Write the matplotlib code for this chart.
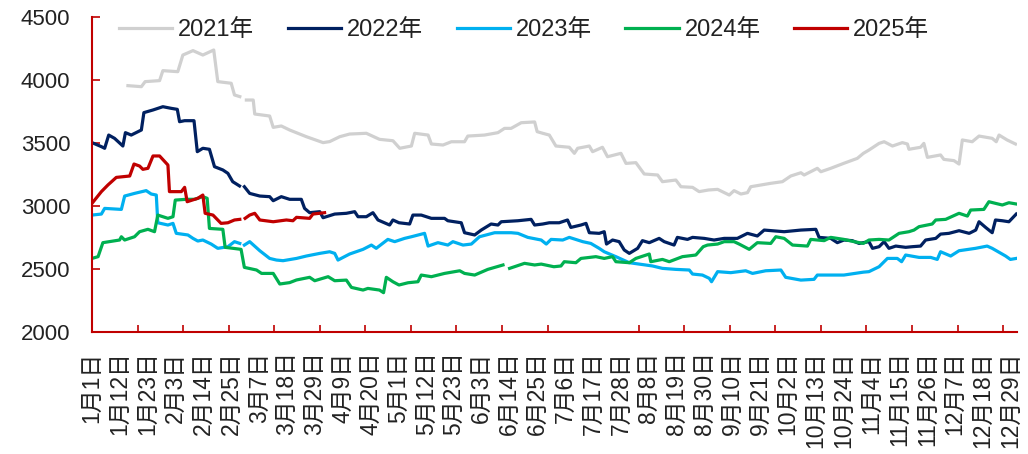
import numpy as np
import matplotlib
matplotlib.use("Agg")
from matplotlib import pyplot as plt

plt.rcParams["font.family"] = ["Liberation Sans", "Noto Sans CJK SC", "DejaVu Sans"]

nan = np.nan

# x = day of year (leap-year calendar, 0 = 1月1日), y = price
s2021 = [(14.2, 3955), (19.5, 3947), (21, 3987), (26.7, 3995), (28, 4074), (33.9, 4066),
         (35.9, 4198), (39.9, 4233), (43.8, 4198), (48.1, 4238), (49.7, 3987), (55, 3974),
         (56.3, 3881), (58.4, 3868), (59, nan), (61, 3841), (63.7, 3841), (64.3, 3730),
         (70.2, 3714), (71.6, 3624), (74.8, 3635), (78.1, 3603), (84.7, 3550), (91.3, 3503),
         (93.9, 3511), (97.9, 3550), (101.8, 3571), (108.4, 3577), (113.6, 3529), (118.9, 3518),
         (121.6, 3458), (126.2, 3476), (127.5, 3577), (132.8, 3563), (134.1, 3492), (138.7, 3484),
         (142, 3510), (147.2, 3510), (148.5, 3555), (155.1, 3563), (160.4, 3582), (163, 3616),
         (165.6, 3616), (169.6, 3661), (174.9, 3667), (175.9, 3590), (178.1, 3577), (180.7, 3563),
         (183.3, 3476), (188.6, 3466), (190.6, 3418), (191.9, 3458), (196.5, 3476), (197.8, 3431),
         (201.7, 3466), (203.7, 3391), (209, 3418), (211, 3338), (214.9, 3344), (218.2, 3254),
         (223.5, 3246), (225.4, 3193), (230.7, 3206), (232.7, 3153), (237.3, 3148), (239.9, 3114),
         (243.6, 3127), (247.2, 3132), (251.8, 3087), (253.7, 3122), (256.4, 3095), (259, 3106),
         (260.3, 3153), (268.2, 3180), (272.8, 3193), (276.1, 3238), (280.1, 3264), (281.4, 3246),
         (286.6, 3299), (288, 3272), (291.9, 3299), (297.1, 3339), (302.4, 3378), (304.8, 3418),
         (307, 3444), (311, 3497), (313, 3510), (316.3, 3476), (320.2, 3503), (322.2, 3492),
         (322.8, 3450), (327.4, 3466), (328.7, 3497), (330.1, 3386), (335.3, 3405), (336.6, 3370),
         (340.6, 3360), (342.6, 3333), (343.9, 3524), (347.8, 3510), (350.5, 3555), (355.7, 3537),
         (357.3, 3510), (358.4, 3563), (361.6, 3524), (364.9, 3492)]

s2022 = [(0, 3503), (3.7, 3471), (5, 3458), (6.6, 3563), (8.9, 3537), (12.2, 3476), (13.2, 3582),
         (15.5, 3563), (19.5, 3603), (20.5, 3741), (24.1, 3762), (28, 3788), (31.3, 3775),
         (33.7, 3767), (34.6, 3669), (36.6, 3677), (40.3, 3677), (41.6, 3431), (43.8, 3458),
         (46.4, 3450), (48.4, 3312), (51.7, 3286), (53.7, 3259), (55.6, 3193), (58.3, 3159),
         (59, nan), (60.2, 3153), (62.3, 3100), (66.3, 3079), (70.2, 3074), (71.6, 3042),
         (74.8, 3074), (78.1, 3053), (82.7, 3053), (84, 2981), (86, 2947), (90, 2955), (91.3, 2907),
         (95.9, 2936), (100.5, 2942), (103.8, 2955), (105.1, 2915), (108.4, 2915), (111, 2947),
         (113, 2889), (117.6, 2849), (118.9, 2889), (121.3, 2867), (125.5, 2857), (126.8, 2928),
         (130.1, 2928), (134.1, 2902), (139.3, 2902), (140.6, 2883), (145.9, 2867), (147.2, 2788),
         (151.2, 2770), (153.8, 2809), (157.7, 2857), (160.4, 2849), (161.7, 2875), (168.3, 2883),
         (173.5, 2894), (174.9, 2849), (178.1, 2857), (180.7, 2867), (184.6, 2867), (187.9, 2889),
         (189.2, 2830), (193.2, 2849), (195.2, 2862), (196.5, 2788), (200.4, 2783), (202.4, 2796),
         (203.3, 2698), (205.7, 2730), (208.3, 2717), (210.3, 2651), (212.3, 2624), (215.6, 2664),
         (217.5, 2725), (220.2, 2709), (224.1, 2743), (226.1, 2717), (230, 2690), (231.3, 2751),
         (235.3, 2735), (237.3, 2751), (241.9, 2743), (245.8, 2730), (249.8, 2743), (255, 2743),
         (259, 2783), (262.9, 2762), (265.6, 2809), (273.5, 2796), (280.1, 2809), (286, 2815),
         (287.3, 2751), (291.9, 2743), (294.5, 2709), (297.1, 2730), (300.4, 2725), (303.1, 2703),
         (307, 2717), (308.4, 2664), (311, 2677), (313, 2717), (314.9, 2664), (317.6, 2682),
         (321.5, 2672), (324.1, 2677), (327.4, 2682), (329.4, 2730), (333.4, 2743), (335.3, 2777),
         (338.6, 2783), (342.6, 2804), (346.6, 2783), (349.2, 2809), (350.5, 2875), (353.1, 2830),
         (355.7, 2788), (357, 2889), (359.7, 2883), (362.3, 2875), (365.2, 2936)]

s2023 = [(0, 2928), (3.7, 2936), (5, 2981), (11.6, 2973), (12.9, 3079), (16.8, 3100), (21.4, 3122),
         (23.4, 3095), (25.4, 3087), (26, 2867), (30, 2849), (32, 2862), (33.3, 2783), (37.9, 2770),
         (39.9, 2743), (41.8, 2722), (43.8, 2730), (47.1, 2698), (49.7, 2664), (53.7, 2677),
         (56.3, 2717), (58.4, 2703), (59, nan), (60.2, 2690), (62.3, 2717), (66.3, 2645),
         (70.2, 2584), (72.9, 2571), (75.5, 2566), (80.8, 2584), (84.7, 2603), (90, 2624),
         (93.9, 2637), (95.9, 2624), (97.2, 2571), (101.8, 2619), (107.1, 2656), (110.4, 2690),
         (112.3, 2664), (116.9, 2735), (119.6, 2717), (123.5, 2743), (126.2, 2756), (131.4, 2783),
         (132.8, 2682), (136.7, 2709), (140.6, 2690), (142.6, 2717), (146.6, 2690), (149.9, 2698),
         (153.1, 2756), (159.1, 2788), (165.6, 2788), (168.3, 2783), (172.2, 2751), (177.5, 2730),
         (179.5, 2698), (181.4, 2735), (186, 2730), (188.6, 2751), (193.9, 2717), (197.1, 2703),
         (200.4, 2664), (202.4, 2637), (207, 2598), (212.3, 2550), (216.2, 2539), (221.5, 2524),
         (225.4, 2505), (230.7, 2497), (236, 2492), (237.3, 2460), (241.2, 2452), (243.9, 2426),
         (244.8, 2399), (247.2, 2479), (252.4, 2471), (258.3, 2486), (261, 2465), (266.2, 2486),
         (272.2, 2492), (274.1, 2434), (280.1, 2412), (285.3, 2418), (286.6, 2452), (297.1, 2452),
         (304.8, 2475), (307, 2479), (311, 2518), (314.3, 2584), (318.2, 2584), (319.9, 2558),
         (321.5, 2611), (326.8, 2592), (331.4, 2592), (334, 2576), (335.3, 2637), (339.3, 2603),
         (342.6, 2645), (349.1, 2664), (353.7, 2682), (355.7, 2664), (361, 2603), (362.9, 2576),
         (365.2, 2584)]

s2024 = [(0, 2584), (2.4, 2598), (4.3, 2709), (10.9, 2730), (11.6, 2756), (12.9, 2730),
         (16.8, 2756), (18.8, 2796), (22.1, 2815), (24.7, 2796), (26, 2928), (30, 2902),
         (32, 2915), (32.9, 3047), (37.2, 3053), (40.5, 3053), (43.8, 3074), (45.5, 3061),
         (46.4, 2822), (51.7, 2815), (52.6, 2672), (58.9, 2656), (60.2, 2513), (65, 2492),
         (67, 2465), (71.6, 2465), (74.2, 2381), (78.1, 2392), (80.8, 2413), (86, 2434),
         (88, 2407), (93.3, 2439), (95.9, 2407), (100.5, 2412), (102.5, 2354), (107.1, 2333),
         (109, 2346), (113.6, 2333), (115.2, 2312), (116.3, 2434), (118.9, 2399), (121.3, 2373),
         (124.9, 2391), (128.8, 2399), (130.1, 2452), (134.1, 2439), (139.3, 2465), (145.3, 2486),
         (147.2, 2465), (151.2, 2452), (156.4, 2497), (162.4, 2532), (163.5, nan), (165, 2505),
         (170.9, 2545), (174.9, 2532), (177.5, 2539), (182.5, 2518), (185.3, 2524), (186.6, 2558),
         (191.2, 2550), (193.2, 2584), (199.1, 2598), (202.4, 2584), (205.7, 2598), (207, 2558),
         (212.3, 2550), (214.9, 2584), (220.2, 2619), (220.8, 2558), (225.4, 2576), (228.1, 2558),
         (233.3, 2598), (238.6, 2611), (241.5, 2677), (243.2, 2690), (247.2, 2698), (249.8, 2717),
         (253.7, 2717), (255.7, 2698), (259.7, 2656), (262.9, 2709), (268.2, 2703), (270.2, 2756),
         (273.5, 2743), (276.8, 2690), (282.7, 2682), (284, 2735), (289.3, 2725), (291.9, 2751),
         (297.1, 2735), (301.1, 2717), (304.8, 2703), (307, 2730), (311, 2735), (314.9, 2730),
         (318.9, 2783), (322.8, 2796), (324.8, 2809), (326.8, 2836), (332, 2857), (333.4, 2889),
         (337.3, 2894), (342.6, 2942), (345.9, 2920), (347.2, 2968), (352.4, 2973), (354.4, 3034),
         (357, 3021), (359.7, 3008), (362.3, 3026), (365.2, 3016)]

s2025 = [(0, 3021), (3.7, 3114), (6.3, 3167), (9.6, 3227), (14.9, 3238), (16.6, 3333),
         (18.8, 3317), (20.1, 3291), (22.1, 3299), (24.1, 3397), (26.7, 3397), (30, 3325),
         (30.6, 3114), (35.3, 3114), (36.6, 3148), (37.6, 3034), (41.8, 3061), (43.8, 3087),
         (44.7, 2942), (47.8, 2928), (51, 2862), (53.7, 2867), (56.3, 2889), (58.4, 2894),
         (59, nan), (60.5, 2902), (62.3, 2928), (64.3, 2942), (66.3, 2889), (71.6, 2875),
         (76.8, 2889), (79.4, 2883), (80.8, 2910), (86, 2902), (87.3, 2936), (91.9, 2947)]

series = {"2021年": s2021, "2022年": s2022, "2023年": s2023, "2024年": s2024, "2025年": s2025}
colors = ["#D0D0D0", "#002060", "#00B0F0", "#00B050", "#C00000"]

tick_days = list(range(0, 364, 11))
tick_labels = ["1月1日", "1月12日", "1月23日", "2月3日", "2月14日", "2月25日", "3月7日",
               "3月18日", "3月29日", "4月9日", "4月20日", "5月1日", "5月12日", "5月23日",
               "6月3日", "6月14日", "6月25日", "7月6日", "7月17日", "7月28日", "8月8日",
               "8月19日", "8月30日", "9月10日", "9月21日", "10月2日", "10月13日", "10月24日",
               "11月4日", "11月15日", "11月26日", "12月7日", "12月18日", "12月29日"]

fig = plt.figure(figsize=(10.28, 4.54), dpi=100)
ax = fig.add_axes([0.0895, 0.2687, 0.8998, 0.6939])

for (name, pts), c in zip(series.items(), colors):
    x = [p[0] for p in pts]
    y = [p[1] for p in pts]
    ax.plot(x, y, color=c, lw=2.3, label=name, solid_joinstyle="round")

ax.set_xlim(0, 365.5)
ax.set_ylim(2000, 4500)
ax.set_yticks(range(2000, 4501, 500))

ax.set_xticks(tick_days)
ax.set_xticklabels(tick_labels, rotation=90, fontsize=16.5, color="#222222")
ax.set_xticks(range(0, 366, 18), minor=True)
ax.tick_params(axis="x", which="major", length=0, pad=14)
ax.tick_params(axis="x", which="minor", direction="in", length=5, width=1.2, color="#C00000")
ax.tick_params(axis="y", direction="in", length=6, width=1.2, color="#C00000",
               labelsize=16, labelcolor="#222222", pad=15.5)

for side in ["top", "right"]:
    ax.spines[side].set_visible(False)
for side in ["left", "bottom"]:
    ax.spines[side].set_color("#C00000")
    ax.spines[side].set_linewidth(1.5)

fig.legend(loc="center", bbox_to_anchor=(0.510, 0.934), ncol=5, frameon=False,
           fontsize=17, handlelength=2.25, handletextpad=0.25, columnspacing=1.42,
           labelcolor="#222222")

fig.savefig("out.png", dpi=100)
